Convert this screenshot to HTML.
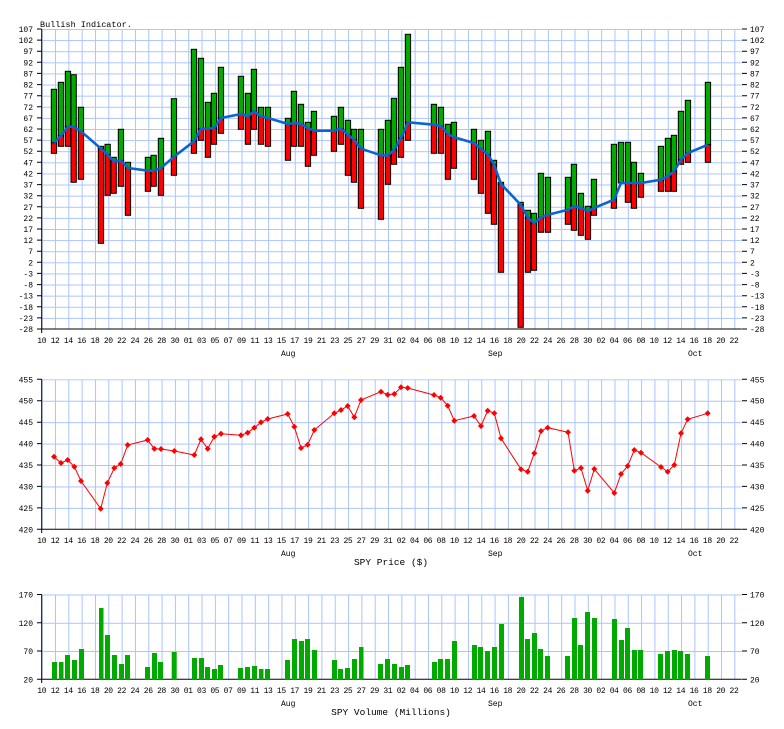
<!DOCTYPE html>
<html><head><meta charset="utf-8"><style>
html,body{margin:0;padding:0;background:#fff;}
svg{display:block;}
text{font-family:"Liberation Mono","DejaVu Sans Mono",monospace;font-size:8px;fill:#000;}
</style></head><body>
<svg width="784" height="729" viewBox="0 0 784 729" xmlns="http://www.w3.org/2000/svg">
<defs>
<pattern id="g1" patternUnits="userSpaceOnUse" x="41.7" y="29" width="13.32" height="11.111"><path d="M0.5 0V11.111M0 0.5H13.32" stroke="#aac4ff" stroke-width="1" fill="none"/></pattern>
<pattern id="g2" patternUnits="userSpaceOnUse" x="41.7" y="379.3" width="13.32" height="21.43"><path d="M0.5 0V21.43M0 0.5H13.32" stroke="#aac4ff" stroke-width="1" fill="none"/></pattern>
<pattern id="g3" patternUnits="userSpaceOnUse" x="41.7" y="594.5" width="13.32" height="28.27"><path d="M0.5 0V28.27M0 0.5H13.32" stroke="#aac4ff" stroke-width="1" fill="none"/></pattern>
</defs>

<!-- ===== TOP PANEL ===== -->
<text x="40" y="27" style="font-size:8.5px">Bullish Indicator.</text>
<rect x="41.7" y="29" width="700" height="300" fill="url(#g1)"/>
<g fill="none" stroke="#000" stroke-width="1">
<path d="M41.7 29V333M41.7 329H741.7"/>
<path d="M37 29H41.7M37 40.1H41.7M37 51.2H41.7M37 62.3H41.7M37 73.4H41.7M37 84.6H41.7M37 95.7H41.7M37 106.8H41.7M37 117.9H41.7M37 129H41.7M37 140.1H41.7M37 151.2H41.7M37 162.3H41.7M37 173.4H41.7M37 184.6H41.7M37 195.7H41.7M37 206.8H41.7M37 217.9H41.7M37 229H41.7M37 240.1H41.7M37 251.2H41.7M37 262.3H41.7M37 273.4H41.7M37 284.6H41.7M37 295.7H41.7M37 306.8H41.7M37 317.9H41.7M37 329H41.7"/>
<path d="M742 29H747M742 40.1H747M742 51.2H747M742 62.3H747M742 73.4H747M742 84.6H747M742 95.7H747M742 106.8H747M742 117.9H747M742 129H747M742 140.1H747M742 151.2H747M742 162.3H747M742 173.4H747M742 184.6H747M742 195.7H747M742 206.8H747M742 217.9H747M742 229H747M742 240.1H747M742 251.2H747M742 262.3H747M742 273.4H747M742 284.6H747M742 295.7H747M742 306.8H747M742 317.9H747M742 329H747"/>
</g>
<g text-anchor="end">
<text x="33" y="32">107</text><text x="33" y="43.1">102</text><text x="33" y="54.2">97</text><text x="33" y="65.3">92</text><text x="33" y="76.4">87</text><text x="33" y="87.6">82</text><text x="33" y="98.7">77</text><text x="33" y="109.8">72</text><text x="33" y="120.9">67</text><text x="33" y="132">62</text><text x="33" y="143.1">57</text><text x="33" y="154.2">52</text><text x="33" y="165.3">47</text><text x="33" y="176.4">42</text><text x="33" y="187.6">37</text><text x="33" y="198.7">32</text><text x="33" y="209.8">27</text><text x="33" y="220.9">22</text><text x="33" y="232">17</text><text x="33" y="243.1">12</text><text x="33" y="254.2">7</text><text x="33" y="265.3">2</text><text x="33" y="276.4">-3</text><text x="33" y="287.6">-8</text><text x="33" y="298.7">-13</text><text x="33" y="309.8">-18</text><text x="33" y="320.9">-23</text><text x="33" y="332">-28</text>
</g>
<g>
<text x="750" y="32">107</text><text x="750" y="43.1">102</text><text x="750" y="54.2">97</text><text x="750" y="65.3">92</text><text x="750" y="76.4">87</text><text x="750" y="87.6">82</text><text x="750" y="98.7">77</text><text x="750" y="109.8">72</text><text x="750" y="120.9">67</text><text x="750" y="132">62</text><text x="750" y="143.1">57</text><text x="750" y="154.2">52</text><text x="750" y="165.3">47</text><text x="750" y="176.4">42</text><text x="750" y="187.6">37</text><text x="750" y="198.7">32</text><text x="750" y="209.8">27</text><text x="750" y="220.9">22</text><text x="750" y="232">17</text><text x="750" y="243.1">12</text><text x="750" y="254.2">7</text><text x="750" y="265.3">2</text><text x="750" y="276.4">-3</text><text x="750" y="287.6">-8</text><text x="750" y="298.7">-13</text><text x="750" y="309.8">-18</text><text x="750" y="320.9">-23</text><text x="750" y="332">-28</text>
</g>
<text x="37.3" y="343" textLength="701.5" lengthAdjust="spacing" xml:space="preserve">10 12 14 16 18 20 22 24 26 28 30 01 03 05 07 09 11 13 15 17 19 21 23 25 27 29 31 02 04 06 08 10 12 14 16 18 20 22 24 26 28 30 02 04 06 08 10 12 14 16 18 20 22</text>
<text x="281" y="356">Aug</text><text x="488" y="356">Sep</text><text x="688" y="356">Oct</text>

<g stroke="#000" stroke-width="1">
<g fill="#00aa00">
<rect x="51.3" y="89.3" width="5.3" height="53.4"/><rect x="58.3" y="82.3" width="5.3" height="53.4"/><rect x="65.3" y="71.3" width="5.3" height="55.4"/><rect x="71" y="74.7" width="5.3" height="52"/><rect x="78.3" y="107.3" width="5.3" height="24"/><rect x="98.3" y="146.3" width="5.3" height="2.4"/><rect x="105" y="144.3" width="5.3" height="10.4"/><rect x="111" y="157.3" width="5.3" height="4"/><rect x="118.3" y="129.3" width="5.3" height="31.4"/><rect x="125.3" y="162.3" width="5.3" height="5.7"/><rect x="145.3" y="157.3" width="5.3" height="13.4"/><rect x="151" y="155.3" width="5.3" height="15.4"/><rect x="158.3" y="138.3" width="5.3" height="29.7"/><rect x="171.3" y="98.7" width="5.3" height="58"/><rect x="191.3" y="49.3" width="5.3" height="92"/><rect x="198.3" y="58.3" width="5.3" height="70.4"/><rect x="205.3" y="102.3" width="5.3" height="26.4"/><rect x="211.3" y="93.3" width="5.3" height="34.7"/><rect x="218.3" y="67.3" width="5.3" height="50.7"/><rect x="238.3" y="76.3" width="5.3" height="37.7"/><rect x="245.3" y="93.3" width="5.3" height="23"/><rect x="251.3" y="69.3" width="5.3" height="42"/><rect x="258.3" y="107.3" width="5.3" height="9"/><rect x="265.3" y="107.3" width="5.3" height="10.7"/><rect x="285.3" y="118.3" width="5.3" height="5.7"/><rect x="291.3" y="91.3" width="5.3" height="31.7"/><rect x="298.3" y="104.3" width="5.3" height="19.7"/><rect x="305.3" y="122.3" width="5.3" height="5.7"/><rect x="311.3" y="111.3" width="5.3" height="19.4"/><rect x="331.3" y="116.3" width="5.3" height="14.4"/><rect x="338.3" y="107.3" width="5.3" height="21.4"/><rect x="345.3" y="120.3" width="5.3" height="14.4"/><rect x="351.3" y="129.3" width="5.3" height="10.4"/><rect x="358.3" y="129.3" width="5.3" height="19.4"/><rect x="378.3" y="129.3" width="5.3" height="26"/><rect x="385.3" y="120.3" width="5.3" height="35"/><rect x="391.3" y="98.3" width="5.3" height="51.4"/><rect x="398.3" y="67.3" width="5.3" height="70.7"/><rect x="405.3" y="34.3" width="5.3" height="88"/><rect x="431.3" y="104.3" width="5.3" height="20.4"/><rect x="438.3" y="107.3" width="5.3" height="19"/><rect x="445.3" y="124.3" width="5.3" height="9.7"/><rect x="451.3" y="122.3" width="5.3" height="15"/><rect x="471.3" y="129.3" width="5.3" height="13.7"/><rect x="478.3" y="140.3" width="5.3" height="8.4"/><rect x="485.3" y="131.3" width="5.3" height="23.4"/><rect x="491.3" y="160.3" width="5.3" height="4.4"/><rect x="498.3" y="182.3" width="5.3" height="1.7"/><rect x="518" y="202.3" width="5.3" height="2.4"/><rect x="525.3" y="210.3" width="5.3" height="7.7"/><rect x="531.3" y="213.3" width="5.3" height="9.7"/><rect x="538.3" y="173.3" width="5.3" height="44"/><rect x="545.3" y="177.3" width="5.3" height="37.4"/><rect x="565.3" y="177.3" width="5.3" height="32.4"/><rect x="571.3" y="164.3" width="5.3" height="42"/><rect x="578.3" y="193.3" width="5.3" height="14.7"/><rect x="585.3" y="206.3" width="5.3" height="5"/><rect x="591.3" y="179.3" width="5.3" height="28.7"/><rect x="611.3" y="144.3" width="5.3" height="55.4"/><rect x="618.3" y="142.3" width="5.3" height="40.7"/><rect x="625.3" y="142.3" width="5.3" height="40.7"/><rect x="631.3" y="162.3" width="5.3" height="20.7"/><rect x="638.3" y="173.3" width="5.3" height="9.7"/><rect x="658.3" y="146.3" width="5.3" height="33.4"/><rect x="665.3" y="138.3" width="5.3" height="38"/><rect x="671.3" y="135.3" width="5.3" height="36"/><rect x="678.3" y="111.3" width="5.3" height="48.4"/><rect x="685.3" y="100.3" width="5.3" height="52.7"/><rect x="705.3" y="82.3" width="5.3" height="62.4"/>
</g>
<g fill="#ff0000">
<rect x="51.3" y="142.7" width="5.3" height="10.6"/><rect x="58.3" y="135.7" width="5.3" height="10.6"/><rect x="65.3" y="126.7" width="5.3" height="19.6"/><rect x="71" y="126.7" width="5.3" height="55.6"/><rect x="78.3" y="131.3" width="5.3" height="48"/><rect x="98.3" y="148.7" width="5.3" height="94.6"/><rect x="105" y="154.7" width="5.3" height="40.6"/><rect x="111" y="161.3" width="5.3" height="32"/><rect x="118.3" y="160.7" width="5.3" height="25.6"/><rect x="125.3" y="168" width="5.3" height="47.3"/><rect x="145.3" y="170.7" width="5.3" height="20.6"/><rect x="151" y="170.7" width="5.3" height="15.6"/><rect x="158.3" y="168" width="5.3" height="27.3"/><rect x="171.3" y="156.7" width="5.3" height="18.6"/><rect x="191.3" y="141.3" width="5.3" height="12"/><rect x="198.3" y="128.7" width="5.3" height="11.6"/><rect x="205.3" y="128.7" width="5.3" height="28.6"/><rect x="211.3" y="128" width="5.3" height="16.3"/><rect x="218.3" y="118" width="5.3" height="15.3"/><rect x="238.3" y="114" width="5.3" height="15.3"/><rect x="245.3" y="116.3" width="5.3" height="28"/><rect x="251.3" y="111.3" width="5.3" height="18"/><rect x="258.3" y="116.3" width="5.3" height="28"/><rect x="265.3" y="118" width="5.3" height="28.3"/><rect x="285.3" y="124" width="5.3" height="36.3"/><rect x="291.3" y="123" width="5.3" height="23.3"/><rect x="298.3" y="124" width="5.3" height="22.3"/><rect x="305.3" y="128" width="5.3" height="38.3"/><rect x="311.3" y="130.7" width="5.3" height="24.6"/><rect x="331.3" y="130.7" width="5.3" height="20.6"/><rect x="338.3" y="128.7" width="5.3" height="15.6"/><rect x="345.3" y="134.7" width="5.3" height="40.6"/><rect x="351.3" y="139.7" width="5.3" height="42.6"/><rect x="358.3" y="148.7" width="5.3" height="59.6"/><rect x="378.3" y="155.3" width="5.3" height="64"/><rect x="385.3" y="155.3" width="5.3" height="29"/><rect x="391.3" y="149.7" width="5.3" height="14.6"/><rect x="398.3" y="138" width="5.3" height="19.3"/><rect x="405.3" y="122.3" width="5.3" height="18"/><rect x="431.3" y="124.7" width="5.3" height="28.6"/><rect x="438.3" y="126.3" width="5.3" height="27"/><rect x="445.3" y="134" width="5.3" height="45.3"/><rect x="451.3" y="137.3" width="5.3" height="31"/><rect x="471.3" y="143" width="5.3" height="36.3"/><rect x="478.3" y="148.7" width="5.3" height="44.6"/><rect x="485.3" y="154.7" width="5.3" height="58.6"/><rect x="491.3" y="164.7" width="5.3" height="59.6"/><rect x="498.3" y="184" width="5.3" height="88.3"/><rect x="518" y="204.7" width="5.3" height="122.6"/><rect x="525.3" y="218" width="5.3" height="54.3"/><rect x="531.3" y="223" width="5.3" height="47.3"/><rect x="538.3" y="217.3" width="5.3" height="15"/><rect x="545.3" y="214.7" width="5.3" height="17.6"/><rect x="565.3" y="209.7" width="5.3" height="14.6"/><rect x="571.3" y="206.3" width="5.3" height="24"/><rect x="578.3" y="208" width="5.3" height="27.3"/><rect x="585.3" y="211.3" width="5.3" height="28"/><rect x="591.3" y="208" width="5.3" height="7.3"/><rect x="611.3" y="199.7" width="5.3" height="8.6"/><rect x="625.3" y="183" width="5.3" height="19.3"/><rect x="631.3" y="183" width="5.3" height="25.3"/><rect x="638.3" y="183" width="5.3" height="14.3"/><rect x="658.3" y="179.7" width="5.3" height="11.6"/><rect x="665.3" y="176.3" width="5.3" height="15"/><rect x="671.3" y="171.3" width="5.3" height="20"/><rect x="678.3" y="159.7" width="5.3" height="4.6"/><rect x="685.3" y="153" width="5.3" height="9.3"/><rect x="705.3" y="144.7" width="5.3" height="17.6"/>
</g>
</g>
<polyline fill="none" stroke="#0a64d2" stroke-width="2.6" stroke-linejoin="round" points="54,142.7 61,135.7 68,126.7 73.6,126.7 81,131.3 101,148.7 107.6,154.7 113.6,161.3 121,160.7 128,168 148,170.7 153.6,170.7 161,168 174,156.7 194,141.3 201,128.7 208,128.7 214,128 221,118 241,114 248,116.3 254,111.3 261,116.3 268,118 288,124 294,123 301,124 308,128 314,130.7 334,130.7 341,128.7 348,134.7 354,139.7 361,148.7 381,155.3 388,155.3 394,149.7 401,138 408,122.3 434,124.7 441,126.3 448,134 454,137.3 474,143 481,148.7 488,154.7 494,164.7 501,184 520.6,204.7 528,218 534,223 541,217.3 548,214.7 568,209.7 574,206.3 581,208 588,211.3 594,208 614,199.7 621,183 628,183 634,183 641,183 661,179.7 668,176.3 674,171.3 681,159.7 688,153 708,144.7"/>

<!-- ===== PRICE PANEL ===== -->
<rect x="41.7" y="379.3" width="700" height="150" fill="url(#g2)"/>
<g fill="none" stroke="#000" stroke-width="1">
<path d="M41.7 379.3V533M41.7 529.3H741.7"/>
<path d="M37 379.3H41.7M37 400.7H41.7M37 422.2H41.7M37 443.6H41.7M37 465H41.7M37 486.4H41.7M37 507.9H41.7M37 529.3H41.7"/>
<path d="M742 379.3H747M742 400.7H747M742 422.2H747M742 443.6H747M742 465H747M742 486.4H747M742 507.9H747M742 529.3H747"/>
</g>
<g text-anchor="end">
<text x="33" y="382.3">455</text><text x="33" y="403.7">450</text><text x="33" y="425.2">445</text><text x="33" y="446.6">440</text><text x="33" y="468">435</text><text x="33" y="489.4">430</text><text x="33" y="510.9">425</text><text x="33" y="532.3">420</text>
</g>
<g>
<text x="750" y="382.3">455</text><text x="750" y="403.7">450</text><text x="750" y="425.2">445</text><text x="750" y="446.6">440</text><text x="750" y="468">435</text><text x="750" y="489.4">430</text><text x="750" y="510.9">425</text><text x="750" y="532.3">420</text>
</g>
<text x="37.3" y="543" textLength="701.5" lengthAdjust="spacing" xml:space="preserve">10 12 14 16 18 20 22 24 26 28 30 01 03 05 07 09 11 13 15 17 19 21 23 25 27 29 31 02 04 06 08 10 12 14 16 18 20 22 24 26 28 30 02 04 06 08 10 12 14 16 18 20 22</text>
<text x="281" y="556">Aug</text><text x="488" y="556">Sep</text><text x="688" y="556">Oct</text>
<text x="391" y="565" text-anchor="middle" style="font-size:9.5px">SPY Price ($)</text>
<polyline fill="none" stroke="#ff0000" stroke-width="1" points="54,456.7 61,463 67.7,460 74.3,466.7 81,481 100.7,508.7 107.3,483 114.3,468 120.7,464 127.7,445 147.7,440 154.3,448.7 161,449 174.3,451 194.3,455 201,439.3 207.7,448.7 214.3,436.7 221,433.7 241,435.3 247.7,432.7 254.3,427.7 261,422.3 267.7,419 287.7,414 294.3,426.7 301,448 307.7,444.7 314.3,430 334.3,413.3 341,410 347.7,406 354.3,417.3 361,400 381,391.7 387.7,394.7 394.3,394 401,387.3 407.7,388 434,395 440.7,397.7 447.7,405.7 454.3,420.7 474,416 481,426 487.7,410.7 494.3,413.3 501,438.3 521,469.3 527.7,471.7 534.3,453.3 541,431 547.7,427.7 568,432.3 574.3,470.7 581,468 587.7,490.7 594.3,469 614.3,493 621,474 627.7,466 634.3,450 641,452.7 661,467 667.7,471.7 674.3,465 681,433.3 687.7,419.3 707.7,413.3"/>
<g fill="#ff0000">
<path d="M54 453.7l3 3-3 3-3-3zM61 460l3 3-3 3-3-3zM67.7 457l3 3-3 3-3-3zM74.3 463.7l3 3-3 3-3-3zM81 478l3 3-3 3-3-3zM100.7 505.7l3 3-3 3-3-3zM107.3 480l3 3-3 3-3-3zM114.3 465l3 3-3 3-3-3zM120.7 461l3 3-3 3-3-3zM127.7 442l3 3-3 3-3-3zM147.7 437l3 3-3 3-3-3zM154.3 445.7l3 3-3 3-3-3zM161 446l3 3-3 3-3-3zM174.3 448l3 3-3 3-3-3zM194.3 452l3 3-3 3-3-3zM201 436.3l3 3-3 3-3-3zM207.7 445.7l3 3-3 3-3-3zM214.3 433.7l3 3-3 3-3-3zM221 430.7l3 3-3 3-3-3zM241 432.3l3 3-3 3-3-3zM247.7 429.7l3 3-3 3-3-3zM254.3 424.7l3 3-3 3-3-3zM261 419.3l3 3-3 3-3-3zM267.7 416l3 3-3 3-3-3zM287.7 411l3 3-3 3-3-3zM294.3 423.7l3 3-3 3-3-3zM301 445l3 3-3 3-3-3zM307.7 441.7l3 3-3 3-3-3zM314.3 427l3 3-3 3-3-3zM334.3 410.3l3 3-3 3-3-3zM341 407l3 3-3 3-3-3zM347.7 403l3 3-3 3-3-3zM354.3 414.3l3 3-3 3-3-3zM361 397l3 3-3 3-3-3zM381 388.7l3 3-3 3-3-3zM387.7 391.7l3 3-3 3-3-3zM394.3 391l3 3-3 3-3-3zM401 384.3l3 3-3 3-3-3zM407.7 385l3 3-3 3-3-3zM434 392l3 3-3 3-3-3zM440.7 394.7l3 3-3 3-3-3zM447.7 402.7l3 3-3 3-3-3zM454.3 417.7l3 3-3 3-3-3zM474 413l3 3-3 3-3-3zM481 423l3 3-3 3-3-3zM487.7 407.7l3 3-3 3-3-3zM494.3 410.3l3 3-3 3-3-3zM501 435.3l3 3-3 3-3-3zM521 466.3l3 3-3 3-3-3zM527.7 468.7l3 3-3 3-3-3zM534.3 450.3l3 3-3 3-3-3zM541 428l3 3-3 3-3-3zM547.7 424.7l3 3-3 3-3-3zM568 429.3l3 3-3 3-3-3zM574.3 467.7l3 3-3 3-3-3zM581 465l3 3-3 3-3-3zM587.7 487.7l3 3-3 3-3-3zM594.3 466l3 3-3 3-3-3zM614.3 490l3 3-3 3-3-3zM621 471l3 3-3 3-3-3zM627.7 463l3 3-3 3-3-3zM634.3 447l3 3-3 3-3-3zM641 449.7l3 3-3 3-3-3zM661 464l3 3-3 3-3-3zM667.7 468.7l3 3-3 3-3-3zM674.3 462l3 3-3 3-3-3zM681 430.3l3 3-3 3-3-3zM687.7 416.3l3 3-3 3-3-3zM707.7 410.3l3 3-3 3-3-3z"/>
</g>

<!-- ===== VOLUME PANEL ===== -->
<rect x="41.7" y="594.5" width="700" height="84.8" fill="url(#g3)"/>
<g fill="none" stroke="#000" stroke-width="1">
<path d="M41.7 594.5V683M41.7 679.3H741.7"/>
<path d="M37 594.5H41.7M37 622.8H41.7M37 651H41.7M37 679.3H41.7"/>
<path d="M742 594.5H747M742 622.8H747M742 651H747M742 679.3H747"/>
</g>
<g text-anchor="end">
<text x="33" y="597.5">170</text><text x="33" y="625.8">120</text><text x="33" y="654">70</text><text x="33" y="682.3">20</text>
</g>
<g>
<text x="750" y="597.5">170</text><text x="750" y="625.8">120</text><text x="750" y="654">70</text><text x="750" y="682.3">20</text>
</g>
<text x="37.3" y="693" textLength="701.5" lengthAdjust="spacing" xml:space="preserve">10 12 14 16 18 20 22 24 26 28 30 01 03 05 07 09 11 13 15 17 19 21 23 25 27 29 31 02 04 06 08 10 12 14 16 18 20 22 24 26 28 30 02 04 06 08 10 12 14 16 18 20 22</text>
<text x="281" y="706">Aug</text><text x="488" y="706">Sep</text><text x="688" y="706">Oct</text>
<text x="391" y="715" text-anchor="middle" style="font-size:9.5px">SPY Volume (Millions)</text>
<g fill="#00aa00">
<rect x="52" y="662" width="5" height="17.3"/><rect x="59" y="662" width="4.5" height="17.3"/><rect x="65" y="655" width="5" height="24.3"/><rect x="72" y="660" width="5" height="19.3"/><rect x="79" y="649" width="5" height="30.3"/>
<rect x="99" y="608" width="4.5" height="71.3"/><rect x="105" y="635" width="5" height="44.3"/><rect x="112" y="655" width="5" height="24.3"/><rect x="119" y="664" width="5" height="15.3"/><rect x="125" y="655" width="5" height="24.3"/>
<rect x="145" y="667" width="5" height="12.3"/><rect x="152" y="653" width="5" height="26.3"/><rect x="158" y="662" width="5" height="17.3"/><rect x="171.7" y="652" width="5" height="27.3"/>
<rect x="192" y="658" width="5" height="21.3"/><rect x="199" y="658" width="5" height="21.3"/><rect x="205" y="667" width="5" height="12.3"/><rect x="212" y="669" width="5" height="10.3"/><rect x="218" y="665" width="5" height="14.3"/>
<rect x="238" y="668" width="5" height="11.3"/><rect x="245" y="667" width="5" height="12.3"/><rect x="252" y="666" width="5" height="13.3"/><rect x="259" y="669" width="4.5" height="10.3"/><rect x="265" y="669" width="5" height="10.3"/>
<rect x="285" y="660" width="5" height="19.3"/><rect x="292" y="639" width="5" height="40.3"/><rect x="299" y="641" width="5" height="38.3"/><rect x="305" y="639" width="5" height="40.3"/><rect x="312" y="650" width="5" height="29.3"/>
<rect x="332" y="660" width="5" height="19.3"/><rect x="338" y="669" width="5" height="10.3"/><rect x="345" y="668" width="5" height="11.3"/><rect x="352" y="659" width="5" height="20.3"/><rect x="359" y="647" width="4.5" height="32.3"/>
<rect x="378" y="664" width="5" height="15.3"/><rect x="385" y="659" width="5" height="20.3"/><rect x="392" y="664" width="5" height="15.3"/><rect x="399" y="667" width="5" height="12.3"/><rect x="405" y="665" width="5" height="14.3"/>
<rect x="432" y="662" width="5" height="17.3"/><rect x="438" y="659" width="5" height="20.3"/><rect x="445" y="659" width="5" height="20.3"/><rect x="452" y="641" width="5" height="38.3"/>
<rect x="472" y="645" width="5" height="34.3"/><rect x="478" y="647" width="5" height="32.3"/><rect x="485" y="651" width="5" height="28.3"/><rect x="492" y="647" width="5" height="32.3"/><rect x="499" y="624" width="5" height="55.3"/>
<rect x="519" y="597" width="5" height="82.3"/><rect x="525" y="639" width="5" height="40.3"/><rect x="532" y="633" width="5" height="46.3"/><rect x="538" y="649" width="5" height="30.3"/><rect x="545" y="656" width="5" height="23.3"/>
<rect x="565" y="656" width="5" height="23.3"/><rect x="572" y="618" width="5" height="61.3"/><rect x="578" y="645" width="5" height="34.3"/><rect x="585" y="612" width="5" height="67.3"/><rect x="592" y="618" width="5" height="61.3"/>
<rect x="612" y="619" width="5" height="60.3"/><rect x="619" y="640" width="5" height="39.3"/><rect x="625" y="628" width="5" height="51.3"/><rect x="632" y="650" width="5" height="29.3"/><rect x="638" y="650" width="5" height="29.3"/>
<rect x="658" y="654" width="5" height="25.3"/><rect x="665" y="651" width="5" height="28.3"/><rect x="672" y="650" width="5" height="29.3"/><rect x="678" y="651" width="5" height="28.3"/><rect x="685" y="654" width="5" height="25.3"/>
<rect x="705" y="656" width="5" height="23.3"/>
</g>
</svg>
</body></html>
